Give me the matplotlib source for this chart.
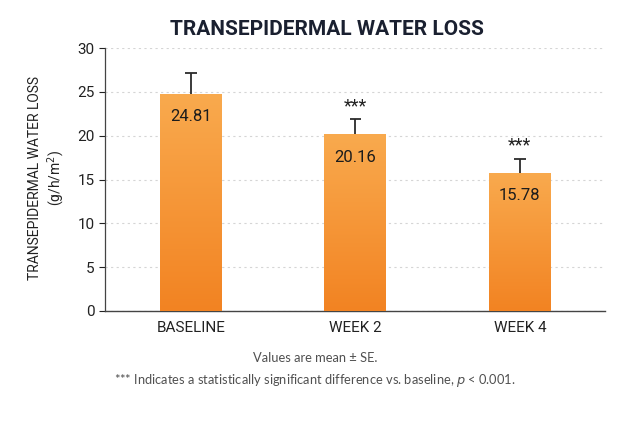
import matplotlib.pyplot as plt
import numpy as np
from matplotlib.colors import LinearSegmentedColormap

plt.rcParams['font.family'] = ['Roboto', 'DejaVu Sans']

categories = ['BASELINE', 'WEEK 2', 'WEEK 4']
means = [24.81, 20.16, 15.78]
se = [2.3, 1.7, 1.55]
signif = ['', '***', '***']

fig = plt.figure(figsize=(6.38, 4.26), dpi=100)
ax = fig.add_axes([0.1646, 0.270, 0.7834, 0.617])

x = np.arange(len(categories))
width = 0.377
bars = ax.bar(x, means, width, color='none', zorder=3)

# gradient fill for each bar (light top -> darker bottom)
cmap = LinearSegmentedColormap.from_list('org', ['#F28322', '#F9AA4E'])
grad = np.linspace(0, 1, 256).reshape(-1, 1)
for b in bars:
    x0, y0 = b.get_x(), b.get_y()
    w, h = b.get_width(), b.get_height()
    im = ax.imshow(grad, cmap=cmap, aspect='auto', origin='lower',
                   extent=[x0, x0 + w, y0, y0 + h], zorder=3)
    im.set_clip_path(b)

# upper-only error bars
tops = np.array(means) + np.array(se)
ax.vlines(x, means, tops, color='#2b2b2b', linewidth=1.3, zorder=4)
ax.hlines(tops, x - 0.035, x + 0.035, color='#2b2b2b', linewidth=1.3, zorder=4)

for xi, m, t, sig in zip(x, means, tops, signif):
    ax.text(xi, m - 2.6, f'{m:.2f}', ha='center', va='center', fontsize=12,
            color='#1c1c1c', zorder=5)
    if sig:
        ax.text(xi, t + 0.5, sig, ha='center', va='bottom', fontsize=13,
                color='#222222', zorder=5)

ax.set_xlim(-0.523, 2.517)
ax.set_ylim(0, 30)
ax.set_yticks(range(0, 31, 5))
ax.set_xticks(x)
ax.set_xticklabels(categories, fontsize=11, color='#222222')
ax.tick_params(axis='y', labelsize=11, colors='#222222', length=4, width=0.8)
ax.tick_params(axis='x', length=0, pad=7)
ax.yaxis.grid(True, linestyle=(0, (2, 3)), color='#d5d5d5', linewidth=0.8, zorder=0)
for sp in ['top', 'right']:
    ax.spines[sp].set_visible(False)
ax.spines['left'].set_color('#444444')
ax.spines['bottom'].set_color('#444444')
ax.spines['left'].set_linewidth(0.9)
ax.spines['bottom'].set_linewidth(1.0)

fig.text(0.055, 0.582, 'TRANSEPIDERMAL WATER LOSS', rotation=90, ha='center',
         va='center', fontsize=10, color='#222222')
fig.text(0.089, 0.582, '(g/h/m$^2$)', rotation=90, ha='center', va='center',
         fontsize=10, color='#222222')

fig.text(0.513, 0.93, 'TRANSEPIDERMAL WATER LOSS', ha='center', va='center',
         fontsize=15, fontweight='bold', color='#1a2030')

fig.text(0.494, 0.160, 'Values are mean \u00b1 SE.', ha='center', va='center',
         fontsize=9.3, color='#505050', family=['Lato', 'DejaVu Sans'])
fig.text(0.494, 0.106, '*** Indicates a statistically significant difference vs. baseline, $p$ < 0.001.',
         ha='center', va='center', fontsize=9.3, color='#505050', family=['Lato', 'DejaVu Sans'])

fig.savefig('out.png', dpi=100)
